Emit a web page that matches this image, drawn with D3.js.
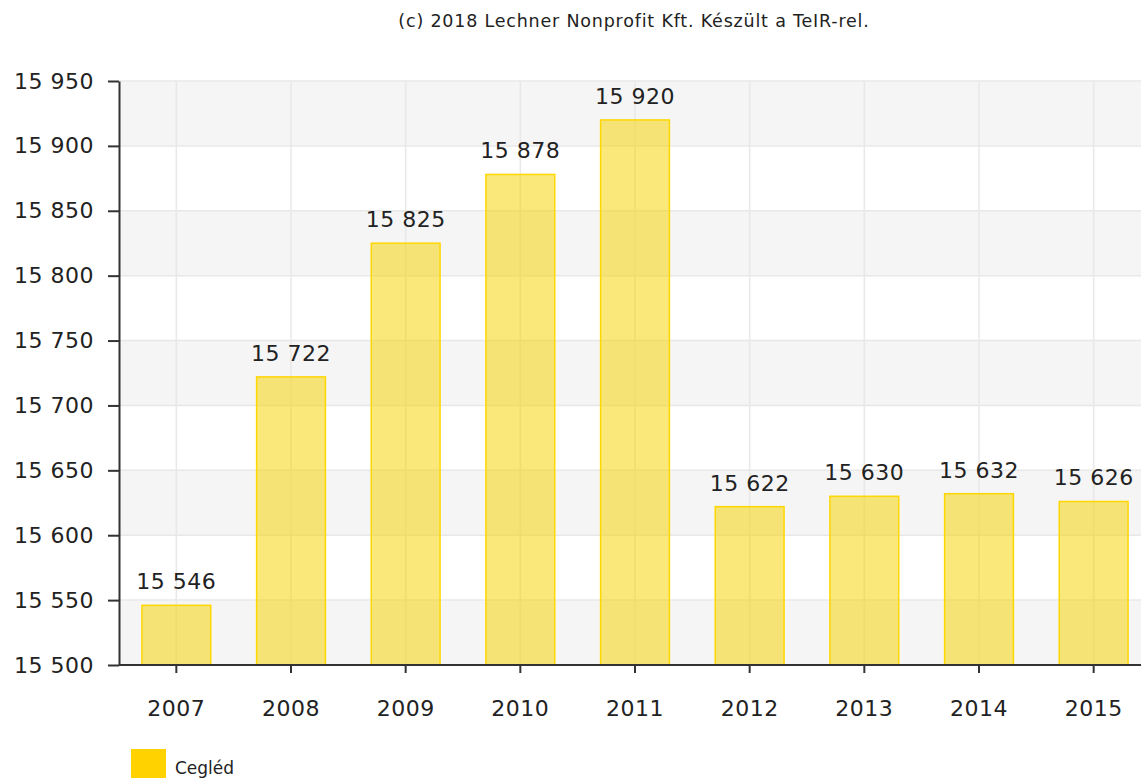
<!DOCTYPE html>
<html><head><meta charset="utf-8">
<script src="https://cdn.jsdelivr.net/npm/d3@7"></script>
<style>body{margin:0;background:#fff;overflow:hidden}svg{display:block}text{font-family:"DejaVu Sans",Verdana,sans-serif;fill:#222}</style>
</head><body>
<svg id="c" width="1141" height="778"></svg>
<script>
const categories = ["2007","2008","2009","2010","2011","2012","2013","2014","2015"];
const values = [15546,15722,15825,15878,15920,15622,15630,15632,15626];
const yTicks = [15500,15550,15600,15650,15700,15750,15800,15850,15900,15950];
const seriesName = "Cegléd";
const titleText = "(c) 2018 Lechner Nonprofit Kft. Készült a TeIR-rel.";

const svg = d3.select("#c");
const fmt = v => d3.format(",")(v).replace(/,/g, " ");
const x = d3.scaleBand().domain(categories).range([119, 1151]).paddingInner(0.4).paddingOuter(0.2);
const y = d3.scaleLinear().domain([15500, 15950]).range([665, 81]);

svg.append("text").attr("x", 634).attr("y", 27).attr("text-anchor", "middle")
  .style("font-size", "17.5px").style("letter-spacing", "0.8px").text(titleText);

// bands
const g = svg.append("g");
for (let i = 0; i < yTicks.length - 1; i++) {
  g.append("rect").attr("x", 119).attr("width", 1141 - 119)
    .attr("y", y(yTicks[i + 1])).attr("height", y(yTicks[i]) - y(yTicks[i + 1]))
    .attr("fill", i % 2 === 0 ? "#f5f5f5" : "#ffffff");
}
g.selectAll(".hg").data(yTicks).join("line")
  .attr("x1", 119).attr("x2", 1141).attr("y1", d => y(d)).attr("y2", d => y(d))
  .attr("stroke", "#e8e8e8").attr("stroke-width", 1.5);
g.selectAll(".vg").data(categories).join("line")
  .attr("x1", d => x(d) + x.bandwidth() / 2).attr("x2", d => x(d) + x.bandwidth() / 2)
  .attr("y1", y(15950)).attr("y2", y(15500))
  .attr("stroke", "#e8e8e8").attr("stroke-width", 1.5);

// bars
svg.append("g").selectAll("rect").data(values).join("rect")
  .attr("x", (d, i) => x(categories[i])).attr("width", x.bandwidth())
  .attr("y", d => y(d)).attr("height", d => y(15500) - y(d))
  .attr("fill", "#f7d200").attr("fill-opacity", 0.52)
  .attr("stroke", "#ffd700").attr("stroke-width", 1.5);

svg.append("g").selectAll("text").data(values).join("text")
  .attr("x", (d, i) => x(categories[i]) + x.bandwidth() / 2)
  .attr("y", d => y(d) - 16).attr("text-anchor", "middle")
  .style("font-size", "22px").style("letter-spacing", "0.5px").text(d => fmt(d));

// axes
const ya = svg.append("g").attr("transform", "translate(119,0)")
  .call(d3.axisLeft(y).tickValues(yTicks).tickFormat(fmt).tickSize(11).tickSizeOuter(0).tickPadding(14));
ya.select(".domain").attr("stroke", "#333").attr("stroke-width", 2);
ya.selectAll(".tick line").attr("stroke", "#333").attr("stroke-width", 2);
ya.selectAll("text").style("font-size", "22px").style("letter-spacing", "0.5px").style("font-family", "DejaVu Sans").attr("fill", "#222");

const xa = svg.append("g").attr("transform", "translate(0,665)")
  .call(d3.axisBottom(x).tickSize(8).tickSizeOuter(0).tickPadding(27));
xa.select(".domain").attr("stroke", "#333").attr("stroke-width", 2).attr("d", "M119,0H1141");
xa.selectAll(".tick line").attr("stroke", "#333").attr("stroke-width", 2);
xa.selectAll("text").style("font-size", "22px").style("letter-spacing", "0.5px").style("font-family", "DejaVu Sans").attr("fill", "#222");

// legend
svg.append("rect").attr("x", 131).attr("y", 749).attr("width", 35).attr("height", 35).attr("fill", "#ffd200");
svg.append("text").attr("x", 175).attr("y", 774).style("font-size", "17px").text(seriesName);
</script>
</body></html>
